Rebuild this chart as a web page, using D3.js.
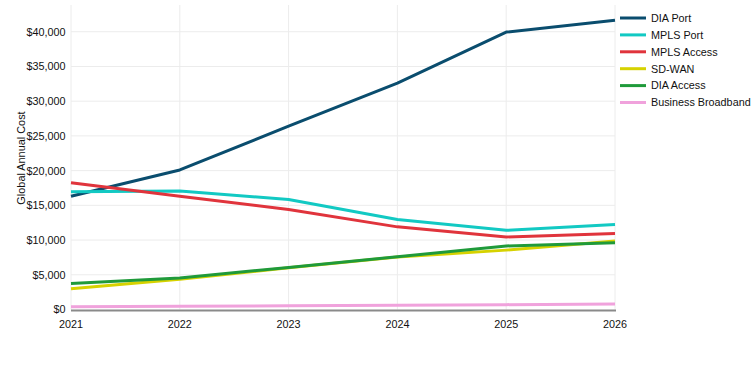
<!DOCTYPE html>
<html><head><meta charset="utf-8">
<script src="https://cdn.jsdelivr.net/npm/d3@7/dist/d3.min.js"></script>
<style>
body{margin:0;background:#fff;}
text{font-family:"Liberation Sans",Arial,Helvetica,sans-serif;}
</style></head>
<body><svg id="c" width="755" height="381"></svg>
<script>
const years = [2021, 2022, 2023, 2024, 2025, 2026];
const seriesNames = ["DIA Port", "MPLS Port", "MPLS Access", "SD-WAN", "DIA Access", "Business Broadband"];
const diaPort = [16300, 20100, 26400, 32600, 39950, 41650];
const mplsPort = [16950, 17050, 15850, 12950, 11400, 12250];
const mplsAccess = [18250, 16300, 14400, 11900, 10450, 10950];
const sdWan = [3000, 4350, 6000, 7550, 8550, 9850];
const diaAccess = [3750, 4550, 6050, 7600, 9150, 9600];
const businessBroadband = [380, 460, 540, 620, 700, 780];
const yTicks = [0, 5000, 10000, 15000, 20000, 25000, 30000, 35000, 40000];
const colors = ["#0a4d6e", "#12c9c3", "#e0343c", "#d6d200", "#1f9a3a", "#f0a2dc"];
const seriesValues = [diaPort, mplsPort, mplsAccess, sdWan, diaAccess, businessBroadband];

(function () {
const svg = d3.select("#c");
const mLeft = 71, mRight = 615, mTop = 5, mBottom = 309.5;
const fs = 10.8;
const x = d3.scaleLinear().domain([2021, 2026]).range([mLeft, mRight]);
const y = d3.scaleLinear().domain([0, 43850]).range([mBottom, mTop]);

// gridlines
svg.append("g").selectAll("line").data(yTicks.slice(1)).join("line")
  .attr("x1", mLeft).attr("x2", mRight)
  .attr("y1", d => y(d)).attr("y2", d => y(d))
  .attr("stroke", "#ececec").attr("stroke-width", 1);
svg.append("g").selectAll("line").data(years).join("line")
  .attr("x1", d => x(d)).attr("x2", d => x(d))
  .attr("y1", mTop).attr("y2", mBottom)
  .attr("stroke", "#ececec").attr("stroke-width", 1);

// y tick labels
svg.append("g").selectAll("text").data(yTicks).join("text")
  .attr("x", 65.5).attr("y", d => y(d)).attr("dy", "0.36em")
  .attr("text-anchor", "end").attr("font-size", fs).attr("fill", "#111")
  .text(d => "$" + d3.format(",")(d));

// x tick labels
svg.append("g").selectAll("text").data(years).join("text")
  .attr("x", d => x(d)).attr("y", 328)
  .attr("text-anchor", "middle").attr("font-size", fs).attr("fill", "#111")
  .text(d => d);

// y title
svg.append("text").attr("transform", "translate(24.5,158) rotate(-90)")
  .attr("text-anchor", "middle").attr("font-size", 10.9).attr("fill", "#111")
  .text("Global Annual Cost");

// axis baseline
svg.append("line").attr("x1", mLeft).attr("x2", mRight + 1)
  .attr("y1", mBottom + 1).attr("y2", mBottom + 1)
  .attr("stroke", "#8a8a8a").attr("stroke-width", 2);

// lines
const line = d3.line().x((d, i) => x(years[i])).y(d => y(d));
seriesValues.forEach((vals, k) => {
  svg.append("path").datum(vals).attr("d", line)
    .attr("fill", "none").attr("stroke", colors[k]).attr("stroke-width", 3)
    .attr("stroke-linejoin", "round");
});

// legend
const lg = svg.append("g");
seriesNames.forEach((n, k) => {
  const yy = 18 + k * 16.9;
  lg.append("line").attr("x1", 620).attr("x2", 646).attr("y1", yy).attr("y2", yy)
    .attr("stroke", colors[k]).attr("stroke-width", 3);
  lg.append("text").attr("x", 651).attr("y", yy).attr("dy", "0.36em")
    .attr("font-size", fs).attr("fill", "#111").text(n);
});
})();
</script></body></html>
